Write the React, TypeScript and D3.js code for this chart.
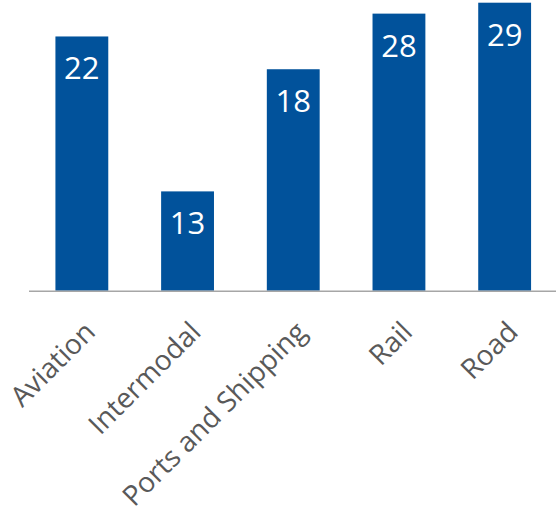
import React from "react";
import * as d3 from "d3";

const categories = ["Aviation", "Intermodal", "Ports and Shipping", "Rail", "Road"];
const valueLabels = [22, 13, 18, 28, 29];
// bar lengths as drawn in the picture (in label units, 29 = tallest)
const barValues = [25.6, 10.0, 22.3, 27.9, 29];

const W = 556;
const H = 511;
const baseY = 290.7;
const topY = 2.7;

export default function App() {
  const x = d3.scaleBand<string>().domain(categories).range([29, 557.5]).paddingInner(0.5).paddingOuter(0.25);
  const y = d3.scaleLinear().domain([0, 29]).range([baseY, topY]);
  const font = "'Open Sans', Roboto, 'Liberation Sans', Arial, sans-serif";
  return (
    <div style={{ position: "absolute", left: 0, top: 0 }}>
      <svg width={W} height={H} style={{ display: "block" }}>
        <rect width={W} height={H} fill="#fff" />
        {categories.map((c, i) => {
          const bx = x(c)!;
          const bw = x.bandwidth();
          const yt = y(barValues[i]);
          return (
            <g key={c}>
              <rect x={bx} y={yt} width={bw} height={baseY - yt} fill="#01529B" />
              <text
                x={bx + bw / 2}
                y={yt + 43}
                textAnchor="middle"
                fill="#fff"
                fontFamily={font}
                fontSize={31}
              >
                {valueLabels[i]}
              </text>
              <text
                transform={`translate(${bx + bw / 2 + 15},${baseY + 43}) rotate(-45)`}
                textAnchor="end"
                fill="#595959"
                fontFamily={font}
                fontSize={28}
              >
                {c}
              </text>
            </g>
          );
        })}
        <line x1={29} x2={W} y1={baseY + 0.5} y2={baseY + 0.5} stroke="#A6A6A6" strokeWidth={1.5} />
      </svg>
    </div>
  );
}
